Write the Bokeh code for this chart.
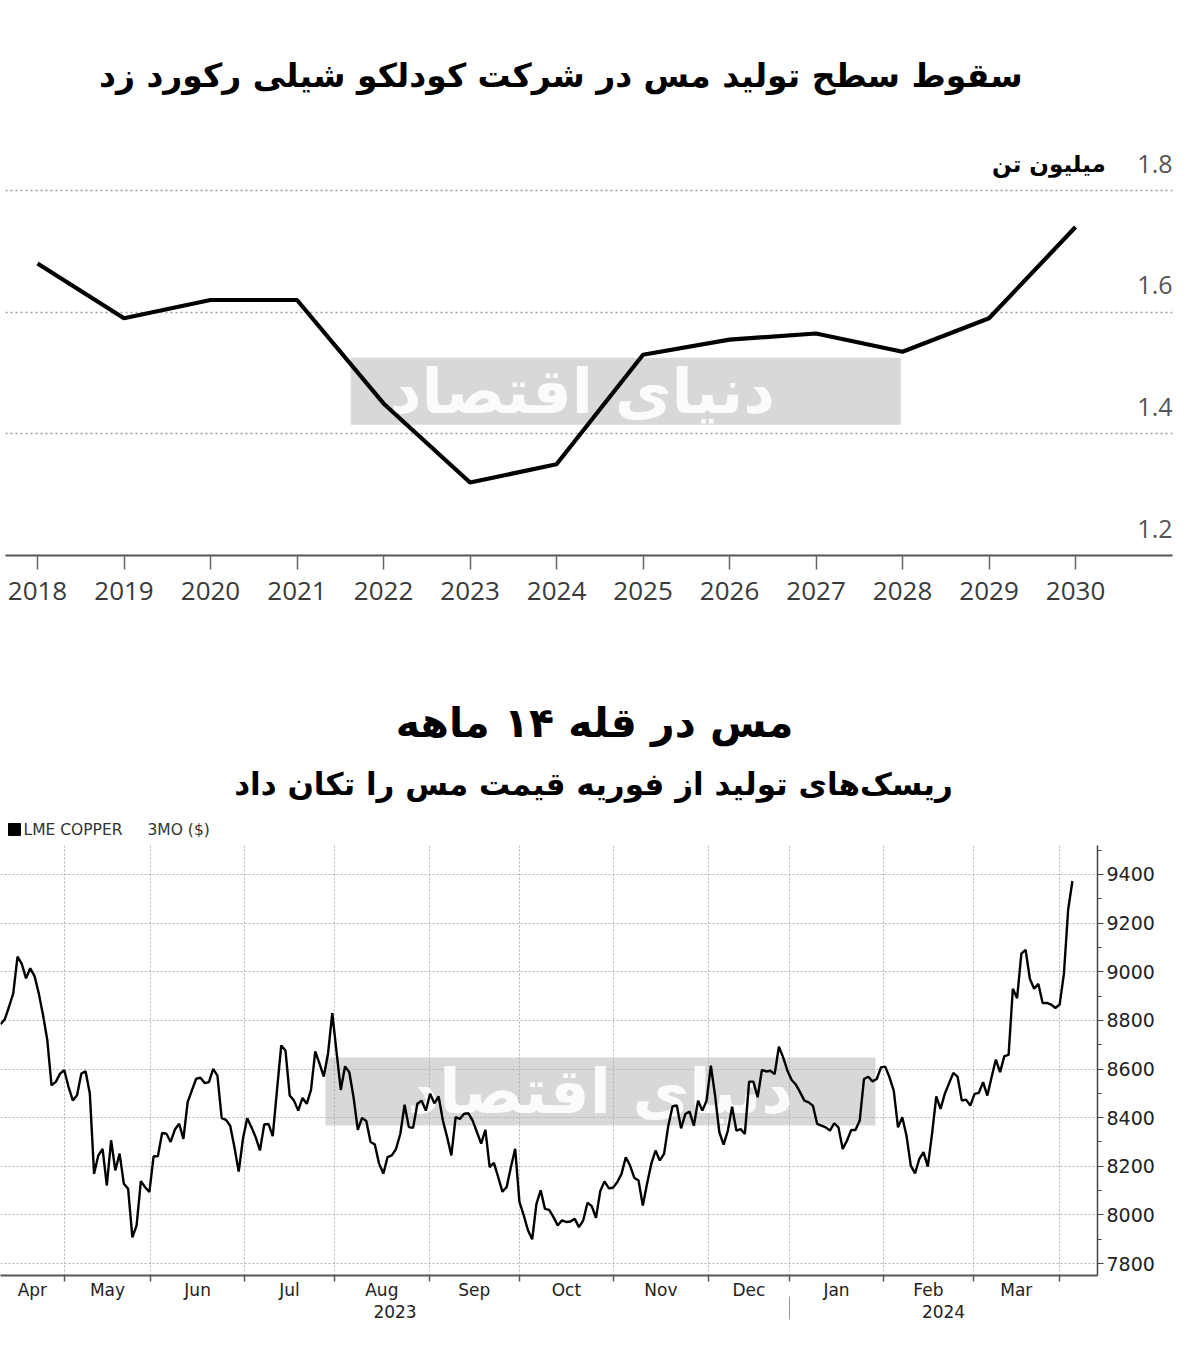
from bokeh.plotting import figure
from bokeh.models import Range1d, FixedTicker, LinearAxis, Grid
from bokeh.embed import file_html
from bokeh.resources import INLINE
from bokeh.core.properties import value

# ---------------- data: Codelco copper production (million tonnes) ----------------
years = [2018, 2019, 2020, 2021, 2022, 2023, 2024, 2025, 2026, 2027, 2028, 2029, 2030]
production = [1.68, 1.59, 1.62, 1.62, 1.45, 1.32, 1.35, 1.53, 1.555, 1.565, 1.535, 1.59, 1.74]
top_grid_ticks = [1.4, 1.6, 1.8]
top_label_vals = [1.2, 1.4, 1.6, 1.8]
top_label_text = ["1.2", "1.4", "1.6", "1.8"]

top_title = "سقوط سطح تولید مس در شرکت کودلکو شیلی رکورد زد"
top_unit = "میلیون تن"

# ---------------- data: LME copper 3M price ($), trading days Apr 2023 - Apr 2024 ----------------
copper = [
    8784, 8804, 8856, 8911, 9062, 9032, 8973, 9014, 8982, 8911, 8822, 8719, 8533, 8547, 8581,
    8595, 8526, 8471, 8492, 8581, 8591, 8499, 8169, 8245, 8272, 8121, 8307, 8183, 8252, 8128,
    8108, 7908, 7957, 8139, 8114, 8094, 8242, 8241, 8337, 8334, 8300, 8351, 8375,
    8313, 8464, 8512, 8560, 8564, 8542, 8546, 8601, 8573, 8398, 8391, 8367, 8278, 8178, 8313,
    8398, 8361, 8319, 8265, 8372, 8374, 8324, 8512, 8697, 8676, 8491, 8470, 8429, 8481, 8457,
    8514, 8672, 8622, 8569, 8663, 8830, 8670, 8514, 8611, 8587, 8484,
    8350, 8399, 8386, 8300, 8290, 8211, 8170, 8238, 8245, 8272, 8334, 8453, 8361, 8358, 8457,
    8470, 8429, 8498, 8459, 8487, 8388, 8320, 8245, 8402, 8395, 8416, 8418, 8388, 8341, 8293,
    8350, 8197, 8214, 8156, 8095, 8115, 8197, 8272, 8054, 7999,
    7937, 7900, 8046, 8101, 8025, 8021, 7991, 7957, 7978, 7971, 7973, 7984, 7950, 7978, 8050,
    8036, 7988, 8098, 8138, 8110, 8112, 8135, 8169, 8237, 8203, 8153, 8142, 8039, 8128, 8210,
    8265, 8224, 8251, 8367, 8447, 8450, 8356, 8415, 8425, 8367, 8470, 8429,
    8470, 8614, 8490, 8340, 8289, 8347, 8445, 8347, 8353, 8333, 8548, 8548, 8484, 8596, 8590,
    8593, 8579, 8692, 8648, 8593, 8555, 8536, 8504, 8470, 8463, 8449, 8374, 8367, 8360, 8347,
    8377, 8360, 8271, 8305, 8349, 8349, 8388, 8559, 8568, 8549, 8559, 8607, 8610, 8566, 8511,
    8360,
    8402, 8326, 8203, 8171, 8230, 8258, 8199, 8333, 8487, 8436, 8498, 8541, 8584, 8569, 8470,
    8474, 8450, 8498, 8502, 8546, 8491, 8566, 8639, 8587, 8653, 8658, 8930, 8891, 9074, 9090,
    8971, 8930, 8950, 8871, 8872, 8865, 8851, 8865, 8991, 9255, 9373,
]
day_index = list(range(len(copper)))

month_names = ["Apr", "May", "Jun", "Jul", "Aug", "Sep", "Oct", "Nov", "Dec", "Jan", "Feb", "Mar"]
month_bounds = [15.0, 35.3, 57.4, 78.5, 100.8, 122.0, 144.1, 166.4, 185.5, 207.6, 228.7, 248.9]
year_names = ["2023", "2024"]
price_ticks = [7800, 8000, 8200, 8400, 8600, 8800, 9000, 9200, 9400]
price_minor = [7800, 7900, 8000, 8100, 8200, 8300, 8400, 8500, 8600, 8700, 8800, 8900, 9000,
               9100, 9200, 9300, 9400, 9500]

bottom_title = "مس در قله ۱۴ ماهه"
bottom_subtitle = "ریسک\u200cهای تولید از فوریه قیمت مس را تکان داد"
legend_name = "LME COPPER"
legend_unit = "3MO ($)"
watermark = "دنیای اقتصاد"

FA = "DejaVu Sans"

# ======================= top chart =======================
x0, x1 = 2017.63, 2031.121
p1 = figure(width=1200, height=640, x_range=Range1d(x0, x1), y_range=Range1d(1.2, 2.1124),
            output_backend="svg", toolbar_location=None, y_axis_location=None,
            min_border_left=5, min_border_right=28, min_border_top=0, min_border_bottom=85)
p1.outline_line_color = None
p1.xgrid.visible = False
p1.ygrid.visible = False
p1.add_layout(Grid(dimension=1, ticker=FixedTicker(ticks=top_grid_ticks),
                   grid_line_color="#9a9a9a", grid_line_dash="2 3", grid_line_width=1.3))

ax = p1.xaxis[0]
ax.ticker = FixedTicker(ticks=years)
ax.major_label_overrides = {y: str(y) for y in years}
ax.major_tick_out = 14
ax.major_tick_in = 0
ax.minor_tick_out = 0
ax.minor_tick_in = 0
ax.axis_line_color = "#555555"
ax.axis_line_width = 2
ax.major_tick_line_color = "#666666"
ax.major_tick_line_width = 1.5
ax.major_label_text_font = "Open Sans"
ax.major_label_text_font_size = "26px"
ax.major_label_text_color = "#3a3a3a"
ax.major_label_standoff = 12

# watermark band
p1.quad(left=[2021.62], right=[2027.98], bottom=[1.415], top=[1.525],
        fill_color="#a8a8a8", fill_alpha=0.45, line_color=None)
p1.text(x=[2024.3], y=[1.47], text=[watermark], text_font=value(FA), text_font_style="bold",
        text_font_size="62px", text_color="white", text_alpha=0.9,
        text_align="center", text_baseline="middle")

p1.line(years, production, line_color="black", line_width=4.2)

p1.text(x=[x1] * len(top_label_vals), y=top_label_vals, text=top_label_text,
        text_font=value("Open Sans"), text_font_size="25px", text_color="#555555",
        text_align="right", text_baseline="middle", y_offset=-27)
p1.text(x=[2030.35], y=[1.8], text=[top_unit], text_font=value(FA), text_font_style="bold",
        text_font_size="23px", text_color="black", text_align="right",
        text_baseline="middle", y_offset=-27)
p1.text(x=[2024.05], y=[1.989], text=[top_title], text_font=value(FA),
        text_font_style="bold", text_font_size="33px", text_color="black",
        text_align="center", text_baseline="middle")

# ======================= middle titles =======================
pm = figure(width=1200, height=205, x_range=Range1d(0, 1200), y_range=Range1d(205, 0),
            output_backend="svg", toolbar_location=None, x_axis_location=None,
            y_axis_location=None, min_border=0)
pm.outline_line_color = None
pm.xgrid.visible = False
pm.ygrid.visible = False
pm.text(x=[594], y=[82], text=[bottom_title], text_font=value(FA), text_font_style="bold",
        text_font_size="41px", text_color="black", text_align="center", text_baseline="middle")
pm.text(x=[593], y=[143], text=[bottom_subtitle], text_font=value(FA), text_font_style="bold",
        text_font_size="31px", text_color="black", text_align="center", text_baseline="middle")
pm.scatter(x=[14], y=[189], marker="square", size=12, color="black")
pm.text(x=[23], y=[189], text=[legend_name], text_font=value(FA), text_font_size="15.5px",
        text_color="#333333", text_align="left", text_baseline="middle")
pm.text(x=[147], y=[189], text=[legend_unit], text_font=value(FA), text_font_size="15.5px",
        text_color="#333333", text_align="left", text_baseline="middle")

# ======================= bottom chart =======================
xend = 257.9
p2 = figure(width=1200, height=492, x_range=Range1d(0, xend), y_range=Range1d(7751, 9519),
            output_backend="svg", toolbar_location=None, y_axis_location="right",
            min_border_left=0, min_border_right=103, min_border_top=0, min_border_bottom=62)
p2.outline_line_color = None

edges = [0.0] + month_bounds
label_pos = [(edges[i] + edges[i + 1]) / 2 for i in range(len(month_names))]
month_ticker = FixedTicker(ticks=label_pos, minor_ticks=month_bounds)
mx = p2.xaxis[0]
mx.ticker = month_ticker
mx.major_label_overrides = {pos: name for pos, name in zip(label_pos, month_names)}
mx.major_tick_out = 0
mx.major_tick_in = 0
mx.minor_tick_out = 6
mx.minor_tick_in = 0
mx.minor_tick_line_color = "#555555"
mx.minor_tick_line_width = 1.5
mx.axis_line_color = "#555555"
mx.axis_line_width = 2
mx.major_label_text_font = FA
mx.major_label_text_font_size = "17px"
mx.major_label_text_color = "#222222"
mx.major_label_standoff = -2

jan = month_bounds[8]
year_pos = [jan / 2, (jan + xend) / 2]
yax = LinearAxis(ticker=FixedTicker(ticks=year_pos, minor_ticks=[jan]),
                 major_label_overrides={pos: name for pos, name in zip(year_pos, year_names)})
yax.axis_line_color = None
yax.major_tick_out = 0
yax.major_tick_in = 0
yax.minor_tick_in = 6
yax.minor_tick_out = 17
yax.minor_tick_line_color = "#999999"
yax.minor_tick_line_width = 1
yax.major_label_text_font = FA
yax.major_label_text_font_size = "17px"
yax.major_label_text_color = "#222222"
yax.major_label_standoff = -15
p2.add_layout(yax, "below")

price_ticker = FixedTicker(ticks=price_ticks, minor_ticks=price_minor)
ry = p2.yaxis[0]
ry.ticker = price_ticker
ry.major_tick_out = 6
ry.major_tick_in = 0
ry.minor_tick_out = 4
ry.minor_tick_in = 0
ry.axis_line_color = "#444444"
ry.axis_line_width = 1.5
ry.major_tick_line_color = "#444444"
ry.minor_tick_line_color = "#444444"
ry.major_label_text_font = FA
ry.major_label_text_font_size = "19px"
ry.major_label_text_color = "#222222"
ry.major_label_standoff = 3

p2.ygrid.ticker = price_ticker
p2.ygrid.grid_line_color = "#b5b5b5"
p2.ygrid.grid_line_dash = "2 2"
p2.xgrid.ticker = month_ticker
p2.xgrid.grid_line_color = None
p2.xgrid.minor_grid_line_color = "#b5b5b5"
p2.xgrid.minor_grid_line_dash = "2 2"

p2.quad(left=[76.4], right=[205.7], bottom=[8368], top=[8647],
        fill_color="#a8a8a8", fill_alpha=0.45, line_color=None)
p2.text(x=[141], y=[8507], text=[watermark], text_font=value(FA), text_font_style="bold",
        text_font_size="62px", text_color="white", text_alpha=0.9,
        text_align="center", text_baseline="middle")

p2.line(day_index, copper, line_color="black", line_width=2.4)

open("out.html", "w").write(file_html([p1, pm, p2], INLINE))
